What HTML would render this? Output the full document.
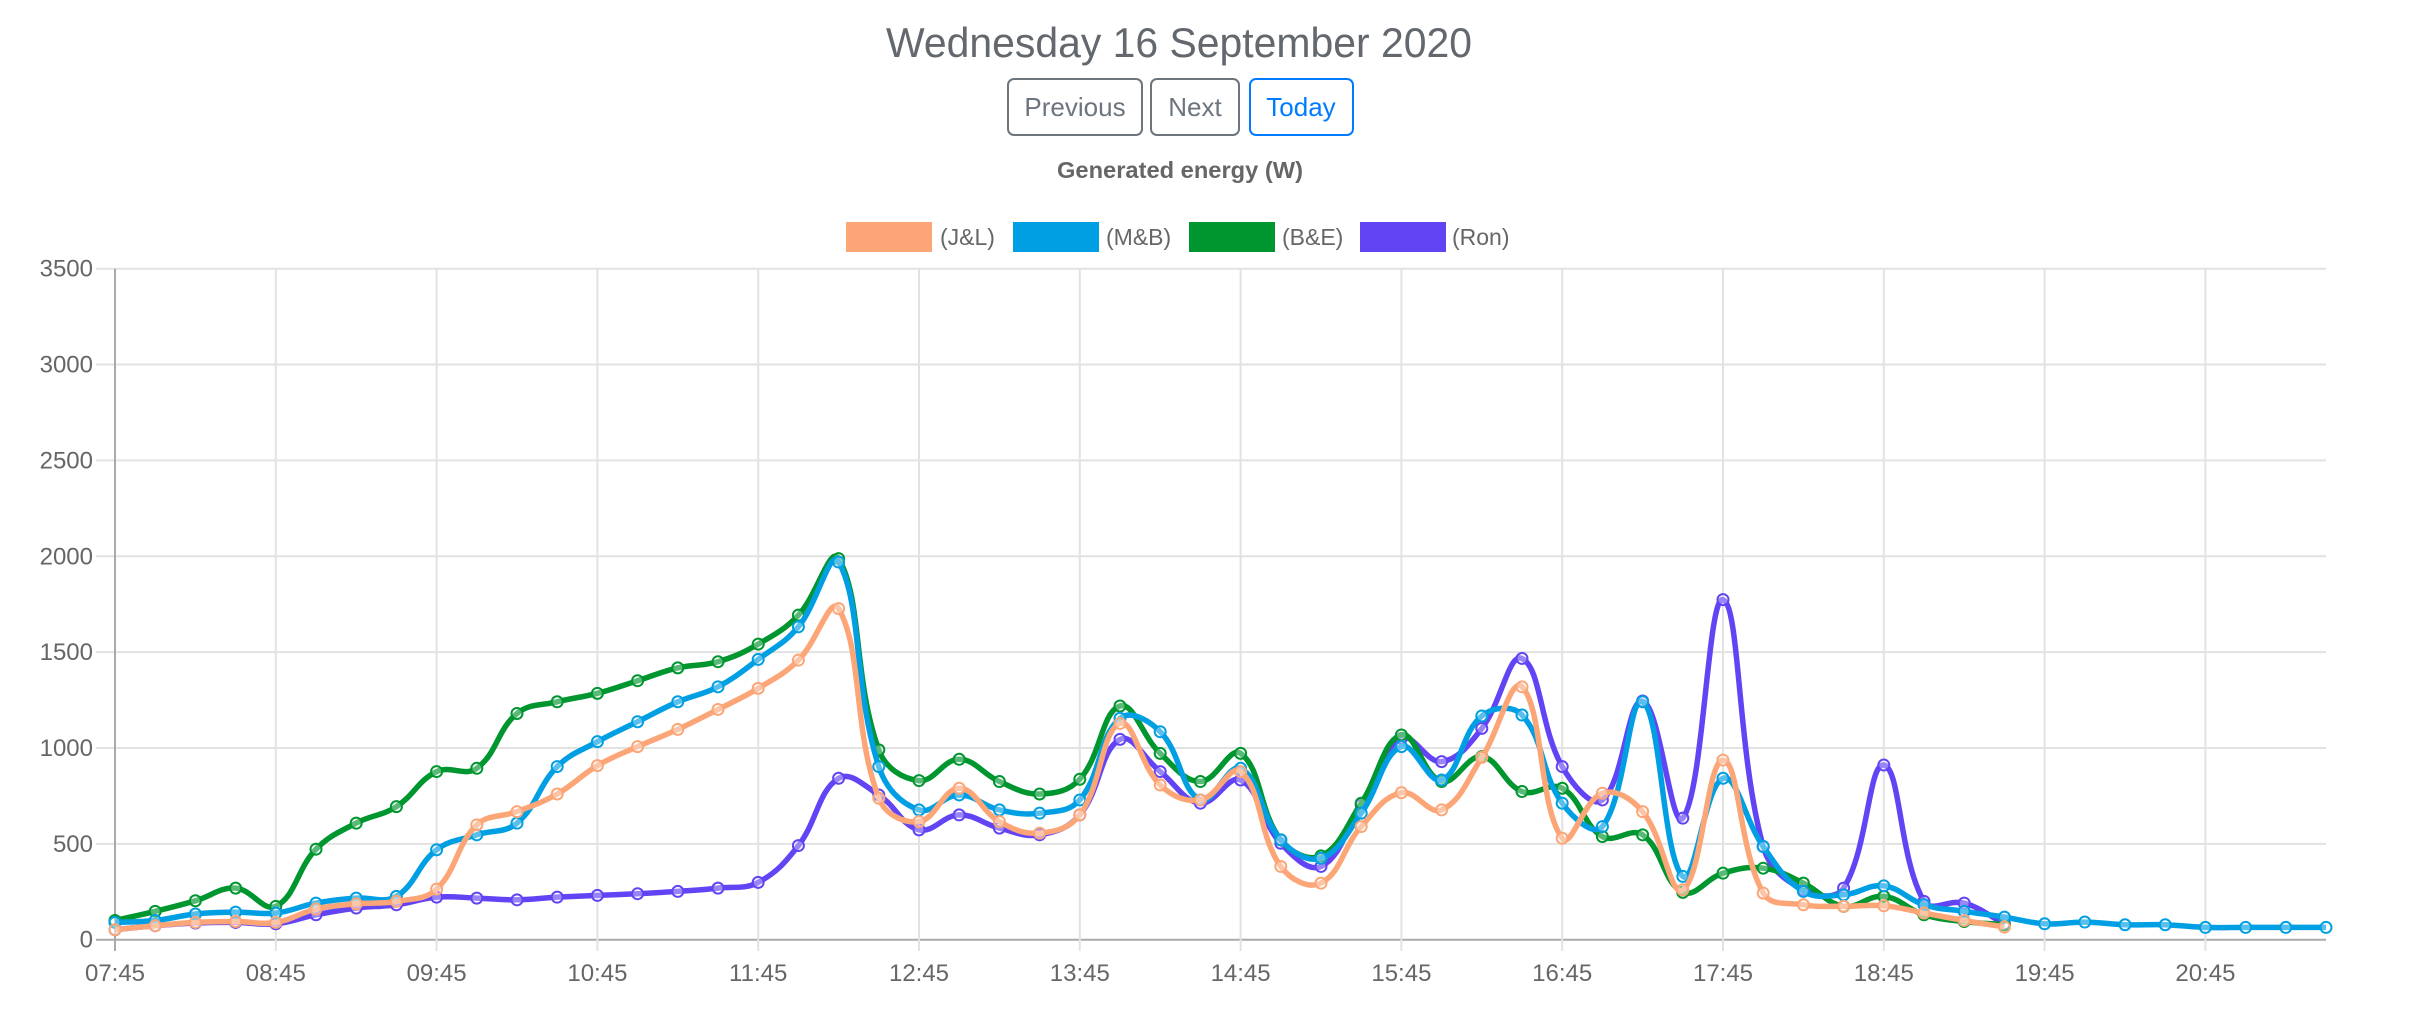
<!DOCTYPE html>
<html><head><meta charset="utf-8"><style>
html,body{margin:0;padding:0;background:#fff;}
svg{display:block;}
text{font-family:"Liberation Sans",sans-serif;}
</style></head><body>
<svg id="s" width="2414" height="1018" viewBox="0 0 2414 1018" xmlns="http://www.w3.org/2000/svg">
<text x="1179" y="57" font-size="42" fill="#62686e" text-anchor="middle" textLength="586" lengthAdjust="spacingAndGlyphs">Wednesday 16 September 2020</text>
<rect x="1008" y="79" width="134" height="56" rx="6" fill="#fff" stroke="#6c757d" stroke-width="2"/>
<text x="1075" y="116" font-size="26" fill="#6c757d" text-anchor="middle">Previous</text>
<rect x="1151" y="79" width="88" height="56" rx="6" fill="#fff" stroke="#6c757d" stroke-width="2"/>
<text x="1195" y="116" font-size="26" fill="#6c757d" text-anchor="middle">Next</text>
<rect x="1250" y="79" width="103" height="56" rx="6" fill="#fff" stroke="#007bff" stroke-width="2"/>
<text x="1301" y="116" font-size="26" fill="#007bff" text-anchor="middle">Today</text>
<text x="1180" y="178" font-size="23" font-weight="bold" fill="#666" text-anchor="middle" textLength="246" lengthAdjust="spacingAndGlyphs">Generated energy (W)</text>
<rect x="846" y="222" width="86" height="30" fill="#fca678"/>
<text x="940" y="245" font-size="23" fill="#666">(J&amp;L)</text>
<rect x="1013" y="222" width="86" height="30" fill="#009fe3"/>
<text x="1106" y="245" font-size="23" fill="#666">(M&amp;B)</text>
<rect x="1189" y="222" width="86" height="30" fill="#00962f"/>
<text x="1282" y="245" font-size="23" fill="#666">(B&amp;E)</text>
<rect x="1360" y="222" width="86" height="30" fill="#6344f5"/>
<text x="1452" y="245" font-size="23" fill="#666">(Ron)</text>
<g id="grid"></g>
<g id="series"></g>
</svg>
<script>
(function(){
var NS="http://www.w3.org/2000/svg";
var X0=115,DX=40.2,Y0=939.7,PY=671/3500;
function X(i){return X0+DX*i;}
function Y(v){return Y0-v*PY;}
function el(t,a,p,txt){var e=document.createElementNS(NS,t);for(var k in a)e.setAttribute(k,a[k]);if(txt!=null)e.textContent=txt;p.appendChild(e);return e;}
var g=document.getElementById('grid');
for(var v=0;v<=3500;v+=500){var y=Y(v);
 el('line',{x1:96,x2:2326,y1:y,y2:y,stroke:v==0?'#aaa':'#e2e2e2','stroke-width':2},g);
 el('text',{x:93,y:y+8,'font-size':24,fill:'#666','text-anchor':'end'},g,String(v));}
var labs=['07:45','08:45','09:45','10:45','11:45','12:45','13:45','14:45','15:45','16:45','17:45','18:45','19:45','20:45'];
for(var h=0;h<14;h++){var x=X(h*4);
 el('line',{x1:x,x2:x,y1:268.7,y2:951,stroke:h==0?'#aaa':'#e2e2e2','stroke-width':2},g);
 el('text',{x:x,y:981,'font-size':24,fill:'#666','text-anchor':'middle'},g,labs[h]);}
var D={
ron:[52,73,87,90,83,130,165,182,222,217,208,222,231,240,252,269,299,491,842,755,573,651,582,547,651,1045,877,712,833,503,382,703,1050,929,1102,1467,903,729,1245,634,1774,486,260,269,911,200,191,83],
be:[100,148,203,269,174,472,608,694,877,894,1180,1241,1285,1351,1418,1450,1542,1693,1988,990,830,941,825,760,837,1219,972,825,972,521,437,712,1068,825,955,773,790,538,547,247,347,373,295,174,226,130,95,78],
mb:[90,100,134,144,139,191,217,226,469,547,608,903,1033,1137,1241,1319,1462,1632,1970,903,677,755,677,660,729,1155,1085,729,894,521,425,660,1007,833,1167,1172,712,590,1241,330,842,486,252,234,281,182,148,118,83,92,78,78,64,64,64,64],
jl:[52,73,90,95,90,160,187,200,264,599,668,760,908,1007,1097,1201,1311,1458,1727,738,616,790,616,556,651,1128,807,729,877,382,295,590,767,677,951,1319,529,764,668,260,937,243,182,174,177,139,100,66]
};
var C={ron:'#6344f5',be:'#00962f',mb:'#009fe3',jl:'#fca678'};
var sg=document.getElementById('series');
['ron','be','mb','jl'].forEach(function(k){
 var pts=D[k].map(function(v,i){return [X(i),Y(v)];});
 var t=0.4,n=pts.length,cp=[];
 for(var i=0;i<n;i++){var p=pts[i],pr=pts[i-1]||p,nx=pts[i+1]||p;
  var d01=Math.hypot(p[0]-pr[0],p[1]-pr[1]),d12=Math.hypot(nx[0]-p[0],nx[1]-p[1]);
  var s01=d01/(d01+d12)||0,s12=d12/(d01+d12)||0;var fa=t*s01,fb=t*s12;
  cp.push({p:[p[0]-fa*(nx[0]-pr[0]),p[1]-fa*(nx[1]-pr[1])],n:[p[0]+fb*(nx[0]-pr[0]),p[1]+fb*(nx[1]-pr[1])]});}
 var d='M'+pts[0][0].toFixed(1)+' '+pts[0][1].toFixed(1);
 for(var i=1;i<n;i++){var a=cp[i-1].n,b=cp[i].p;
  b=[b[0],Math.min(b[1],Y0)];a=[a[0],Math.min(a[1],Y0)];
  d+=' C'+a[0].toFixed(1)+' '+a[1].toFixed(1)+' '+b[0].toFixed(1)+' '+b[1].toFixed(1)+' '+pts[i][0].toFixed(1)+' '+pts[i][1].toFixed(1);}
 el('path',{d:d,fill:'none',stroke:C[k],'stroke-width':5.5,'stroke-linejoin':'round'},sg);
 pts.forEach(function(p){el('circle',{cx:p[0],cy:p[1],r:5.5,fill:'rgba(255,255,255,0.35)',stroke:C[k],'stroke-width':2},sg);});
});
})();
</script>
</body></html>
